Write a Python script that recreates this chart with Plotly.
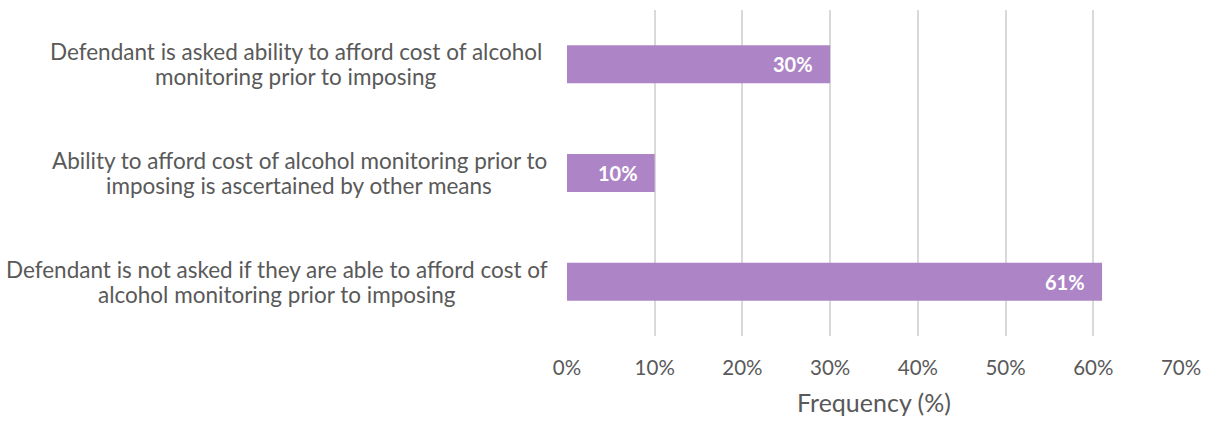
import plotly.graph_objects as go

# Survey responses on assessing ability to pay for alcohol monitoring
categories = [
    ["Defendant is asked ability to afford cost of alcohol",
     "monitoring prior to imposing"],
    ["Ability to afford cost of alcohol monitoring prior to",
     "imposing is ascertained by other means"],
    ["Defendant is not asked if they are able to afford cost of",
     "alcohol monitoring prior to imposing"],
]
frequency = [30, 10, 61]
tick_values = [0, 10, 20, 30, 40, 50, 60, 70]
tick_labels = ["0%", "10%", "20%", "30%", "40%", "50%", "60%", "70%"]

FONT = "Lato, 'Open Sans', sans-serif"
TEXT_COLOR = "#595959"
BAR_COLOR = "#AD85C6"

W, H = 1211, 422
M_L, M_R, M_T, M_B = 567, 27, 10, 84
PLOT_W = W - M_L - M_R

# horizontal centre (in px from the left edge) of each wrapped label block
label_centres_px = [295, 298, 276]

ids = list(range(len(categories)))

fig = go.Figure(
    go.Bar(
        x=frequency,
        y=ids,
        orientation="h",
        marker=dict(color=BAR_COLOR, line=dict(width=0)),
        hoverinfo="skip",
    )
)

# value labels just inside the end of each bar
for i, v in zip(ids, frequency):
    fig.add_annotation(
        x=v, xref="x", xanchor="right", xshift=-15,
        y=i, yref="y", yanchor="middle",
        text=f"<b>{v}%</b>", showarrow=False,
        font=dict(family=FONT, size=20, color="white"),
    )

# category labels, two centred lines per bar
for i, lines, cx in zip(ids, categories, label_centres_px):
    for k, line in enumerate(lines):
        fig.add_annotation(
            x=(cx - M_L) / PLOT_W, xref="paper", xanchor="center",
            y=i, yref="y", yanchor="middle", yshift=12.5 - 25 * k,
            text=line, showarrow=False,
            font=dict(family=FONT, size=22.5, color=TEXT_COLOR),
        )

fig.update_layout(
    width=W, height=H,
    margin=dict(l=M_L, r=M_R, t=M_T, b=M_B),
    paper_bgcolor="white", plot_bgcolor="white",
    bargap=0.65,
    showlegend=False,
    xaxis=dict(
        range=[0, 70],
        tickvals=tick_values, ticktext=tick_labels,
        showgrid=True, gridcolor="#D9D9D9", gridwidth=2,
        zeroline=False, showline=False,
        tickfont=dict(family=FONT, size=20.5, color=TEXT_COLOR),
        ticks="", ticklen=0, ticklabelstandoff=17,
        title=dict(text="Frequency (%)", standoff=16,
                   font=dict(family=FONT, size=25, color=TEXT_COLOR)),
    ),
    yaxis=dict(
        range=[len(categories) - 0.5, -0.5],
        showticklabels=False, showgrid=False, zeroline=False, showline=False,
    ),
)

fig.write_html("out.html")
